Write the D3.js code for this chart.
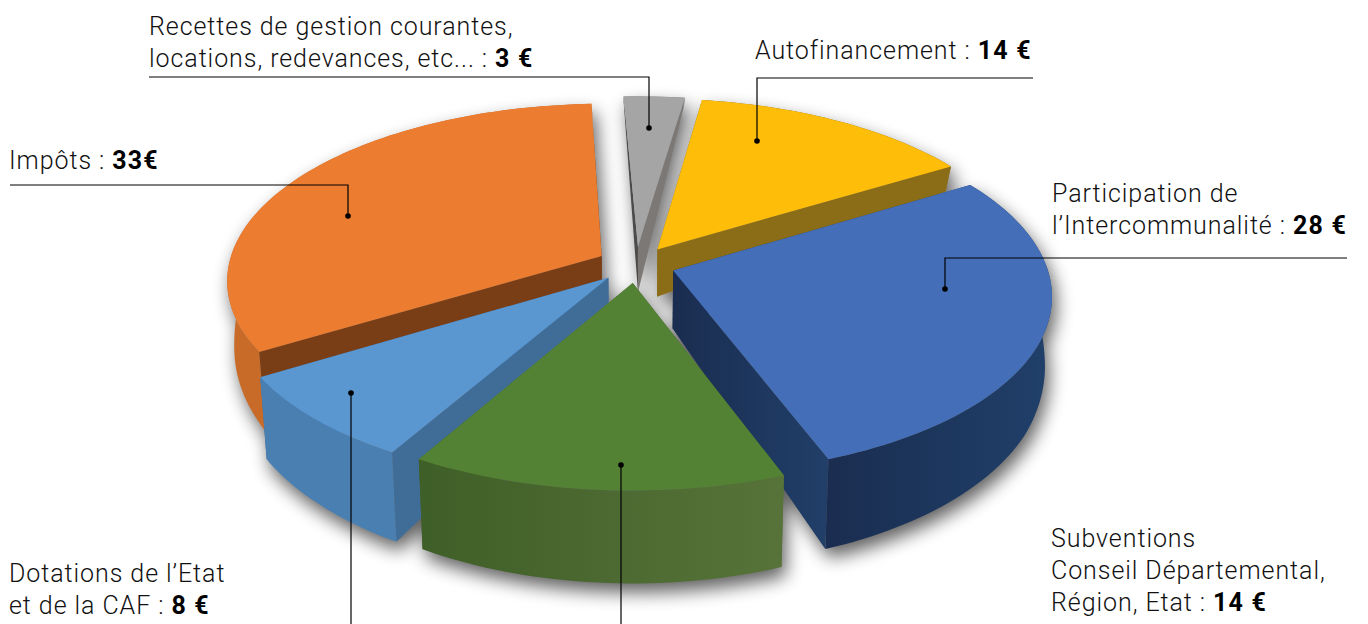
<!DOCTYPE html>
<html lang="fr">
<head>
  <meta charset="UTF-8">
  <title>Recettes</title>
  <script src="https://d3js.org/d3.v7.min.js"></script>
  <style>
    html, body { margin: 0; background: #fff; }
    svg { display: block; }
    text { font-family: Roboto, sans-serif; font-size: 25px; font-weight: 300; letter-spacing: .93px; fill: #111; }
    text .val { font-weight: 700; letter-spacing: 1.2px; fill: #000; }
  </style>
</head>
<body>
<svg></svg>
<script>
  const categories = ['Recettes', 'Autofinancement', 'Intercommunalité', 'Subventions', 'Dotations', 'Impôts']
  const values = [3, 14, 28, 14, 8, 33]
  const valueLabels = ['3 €', '14 €', '28 €', '14 €', '8 €', '33€']
  const labelLines = [
    ['Recettes de gestion courantes,', 'locations, redevances, etc... : '],
    ['Autofinancement : '],
    ['Participation de', 'l’Intercommunalité : '],
    ['Subventions', 'Conseil Départemental,', 'Région, Etat : '],
    ['Dotations de l’Etat', 'et de la CAF : '],
    ['Impôts : ']
  ]
  const topColors = ['#a5a5a5', '#fdbd08', '#446fb8', '#548235', '#5a96d0', '#eb7c30']
  const rimColors = [['#8a8a8a', '#8a8a8a'], ['#8c6d17', '#8c6d17'], ['#1a2d50', '#20406a'], ['#3f5f28', '#577339'], ['#4a7fb2', '#4a7fb2'], ['#c96b28', '#c96b28']]
  const cutColors = [['#4b4b4b', '#7b7875'], ['#8c6d17', '#8c6d17'], ['#1a2d50', '#213f69'], ['#3f5f28', '#577339'], ['#3f6d98', '#3f6d98'], ['#7a3e16', '#7a3e16']]
  // painter's order, back to front
  const drawOrder = [0, 1, 5, 2, 4, 3]

  const width = 1368, height = 624
  const cx = 636, cy = 264.5, R = 373, tilt = 0.468, persp = 0.133, explode = 0.105
  const start = -2.5 * Math.PI / 180

  // wall height grows towards the viewer
  const depth = d3.scaleLinear().domain([97, 243, 290, 355, 491]).range([8, 44, 68, 80, 93])
  const shrink = d3.scaleLinear().domain([0, 1368]).range([640 - 640 * .983, 640 + 728 * .983])

  const layout = [
    {lx: 149, ly: 35, path: [[149, 77], [649, 77], [649, 128]]},
    {lx: 755, ly: 59, path: [[1033, 78], [757, 78], [757, 141]]},
    {lx: 1052, ly: 202, path: [[1347, 258], [945, 258], [945, 289]]},
    {lx: 1051, ly: 547, path: [[621, 624], [621, 465]]},
    {lx: 9, ly: 582, path: [[351, 624], [351, 393]]},
    {lx: 9, ly: 169, path: [[10, 185], [348, 185], [348, 216]]}
  ]

  const project = (u, v) => {
    const w = 1 / (1 - persp * v)
    return [cx + R * u * w, cy + R * tilt * v * w]
  }
  const down = ([x, y]) => [shrink(x), y + depth(y)]
  const line = d3.line()

  const arcs = d3.pie().sort(null).startAngle(start).endAngle(start + 2 * Math.PI)(values)

  const svg = d3.select('svg')
      .attr('width', width)
      .attr('height', height)
      .attr('viewBox', [0, 0, width, height])

  const defs = svg.append('defs')
  defs.append('filter').attr('id', 'shadow')
      .attr('x', '-20%').attr('y', '-20%').attr('width', '140%').attr('height', '140%')
      .append('feGaussianBlur').attr('stdDeviation', 9)

  const gradient = (id, pair) => {
    const g = defs.append('linearGradient').attr('id', id)
    g.append('stop').attr('offset', 0).attr('stop-color', pair[0])
    g.append('stop').attr('offset', 1).attr('stop-color', pair[1])
    return `url(#${id})`
  }

  const slices = arcs.map((a, i) => {
    const mid = (a.startAngle + a.endAngle) / 2
    const ox = explode * Math.sin(mid), oy = -explode * Math.cos(mid)
    const tip = project(ox, oy)
    const n = Math.max(4, Math.ceil((a.endAngle - a.startAngle) * 40))
    const rim = d3.range(n + 1).map(k => {
      const t = a.startAngle + (a.endAngle - a.startAngle) * k / n
      return project(ox + Math.sin(t), oy - Math.cos(t))
    })
    return {i, tip, rim}
  })

  const outline = s => line([s.tip, ...s.rim]) + 'Z'
  const band = pts => line([...pts, ...pts.map(down).reverse()]) + 'Z'

  // shadow falls on the page only, so it goes under every slice
  const shadow = svg.append('g')
      .attr('filter', 'url(#shadow)')
      .attr('transform', 'translate(4,9)')
      .attr('opacity', .62)
  drawOrder.map(i => slices[i]).forEach(s => {
    shadow.append('path').attr('fill', '#000').attr('d', outline(s))
    shadow.append('path').attr('fill', '#000').attr('d', band(s.rim))
    shadow.append('path').attr('fill', '#000').attr('d', band([s.tip, s.rim[0]]))
    shadow.append('path').attr('fill', '#000').attr('d', band([s.tip, s.rim[s.rim.length - 1]]))
  })

  drawOrder.map(i => slices[i]).forEach(s => {
    const g = svg.append('g').attr('class', 'slice')
    const cut = gradient(`cut${s.i}`, cutColors[s.i])
    g.append('path').attr('fill', s.i === 0 ? cutColors[0][0] : cut).attr('d', band([s.tip, s.rim[0]]))
    g.append('path').attr('fill', s.i === 0 ? cutColors[0][1] : cut).attr('d', band([s.tip, s.rim[s.rim.length - 1]]))
    g.append('path').attr('fill', gradient(`rim${s.i}`, rimColors[s.i])).attr('d', band(s.rim))
    g.append('path').attr('fill', topColors[s.i]).attr('d', outline(s))
  })

  // leaders
  layout.forEach(l => {
    svg.append('path')
        .attr('d', line(l.path))
        .attr('fill', 'none')
        .attr('stroke', '#000')
        .attr('stroke-width', 1.2)
    const end = l.path[l.path.length - 1]
    svg.append('circle').attr('cx', end[0]).attr('cy', end[1]).attr('r', 2.8).attr('fill', '#000')
  })

  // labels
  layout.forEach((l, i) => {
    const t = svg.append('text').attr('x', l.lx).attr('y', l.ly)
    labelLines[i].forEach((s, k) => {
      t.append('tspan').attr('x', l.lx).attr('dy', k ? 32 : 0).text(s)
    })
    t.append('tspan').attr('class', 'val').text(valueLabels[i])
  })
</script>
</body>
</html>
